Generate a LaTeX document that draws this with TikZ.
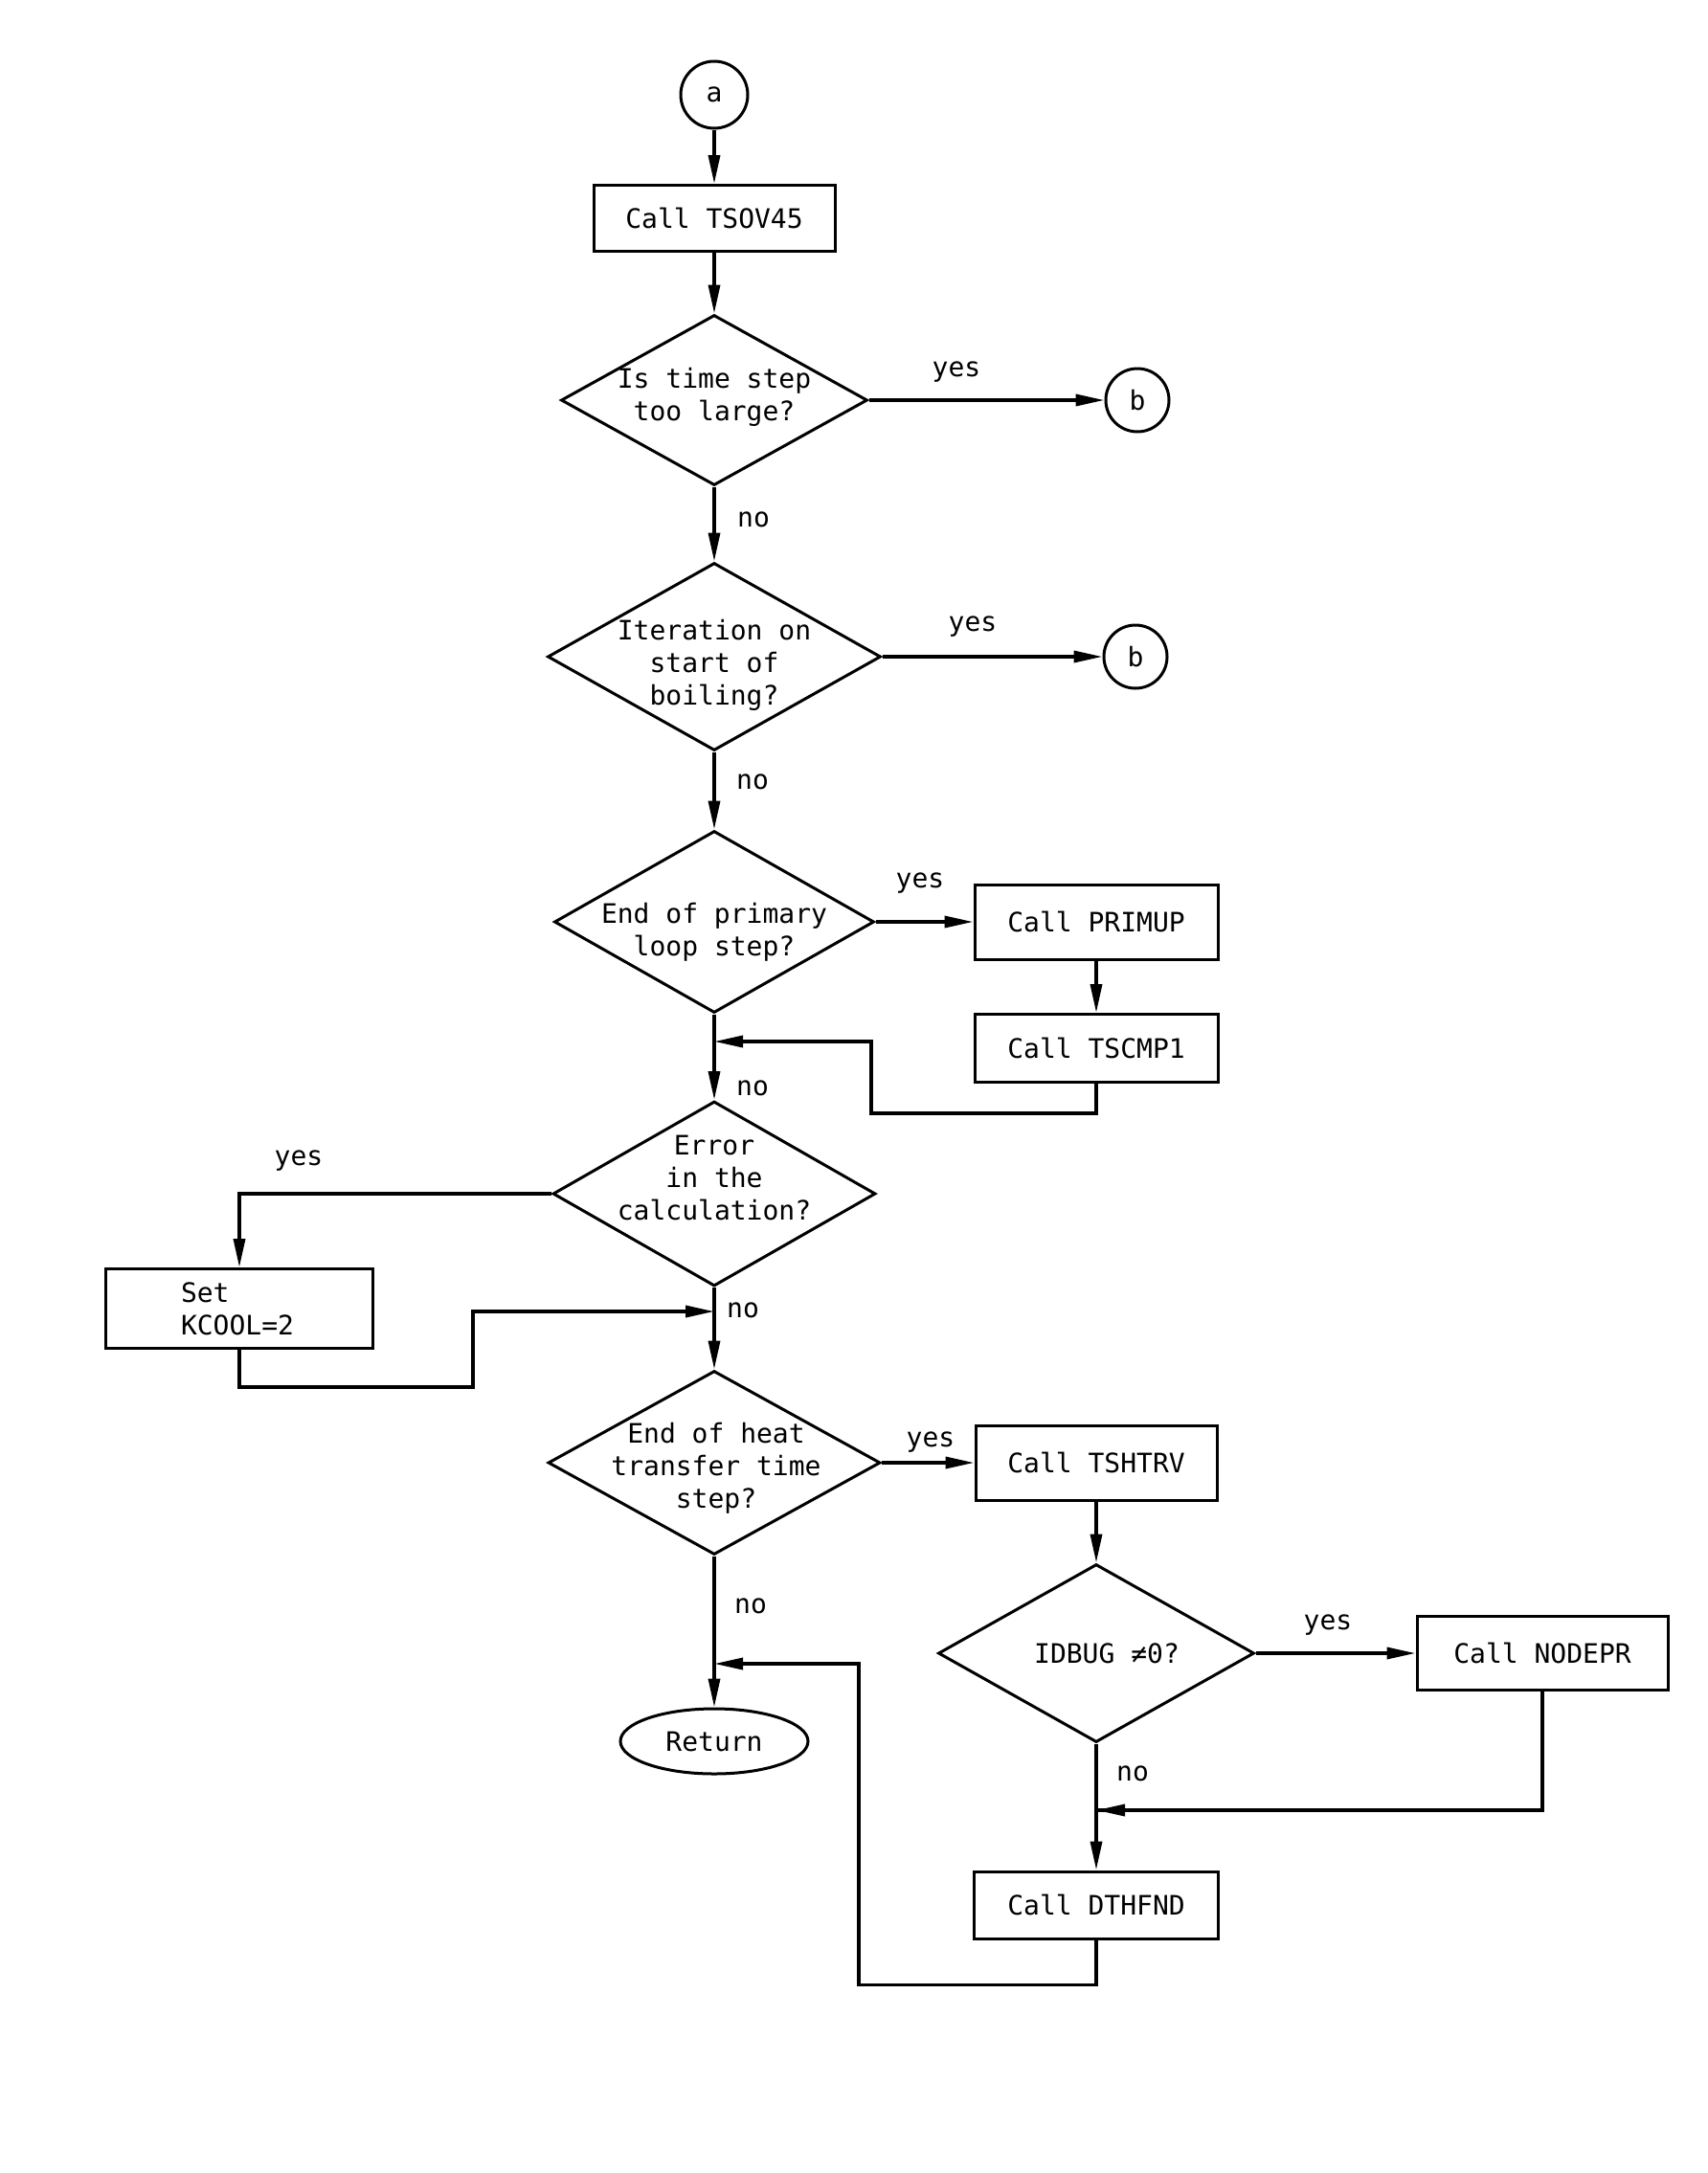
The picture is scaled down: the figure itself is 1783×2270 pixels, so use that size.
\documentclass[tikz,border=0pt]{standalone}
\usepackage{fontspec}
\setmonofont{DejaVu Sans Mono}
\usetikzlibrary{shapes.geometric,arrows.meta}
\begin{document}
\begin{tikzpicture}[x=1pt,y=-1pt,
  every node/.style={font=\ttfamily\fontsize{28}{34}\selectfont},
  line/.style={line width=3.5pt},
  arr/.style={line width=3.5pt,-{Triangle[length=30pt,width=12pt]}},
  box/.style={draw,line width=3pt,inner sep=0pt},
  dec/.style={draw,diamond,line width=3pt,inner sep=0pt},
  conn/.style={draw,circle,line width=3pt,inner sep=0pt},
  txt/.style={align=center,inner sep=0pt},
  lbl/.style={inner sep=0pt}]
\fill[white] (0,0) rectangle (1783,2270);
\useasboundingbox (0,0) rectangle (1783,2270);

% main column
\node[conn,minimum size=70pt] (a) at (746,99) {a};
\node[box,minimum width=252pt,minimum height=69pt] (tsov) at (746,228) {Call TSOV45};
\node[dec,minimum width=320pt,minimum height=178pt] (d1) at (746,418) {};
\node[txt] (d1t) at (746,415) {Is time step\\too large?};
\node[conn,minimum size=66pt] (b1) at (1188,418) {b};

\node[dec,minimum width=348pt,minimum height=196pt] (d2) at (746,686) {};
\node[txt] (d2t) at (746,695) {Iteration on\\start of\\boiling?};
\node[conn,minimum size=66pt] (b2) at (1186,686) {b};

\node[dec,minimum width=334pt,minimum height=190pt] (d3) at (746,963) {};
\node[txt] (d3t) at (746,974) {End of primary\\loop step?};
\node[box,minimum width=254pt,minimum height=78pt] (primup) at (1145,963) {Call PRIMUP};
\node[box,minimum width=254pt,minimum height=71pt] (tscmp) at (1145,1095) {Call TSCMP1};

\node[dec,minimum width=337pt,minimum height=193pt] (d4) at (746,1247) {};
\node[txt] (d4t) at (746,1230) {Error\\in the\\calculation?};
\node[box,minimum width=279pt,minimum height=83pt] (kcool) at (250,1367) {};
\node[align=left,inner sep=0pt] (kcoolt) at (248,1367) {Set\\KCOOL=2};

\node[dec,minimum width=347pt,minimum height=192pt] (d5) at (746,1528) {};
\node[txt] (d5t) at (748,1534) {End of heat\\transfer time\\step?};
\node[box,minimum width=252pt,minimum height=78pt] (tshtrv) at (1145,1528) {Call TSHTRV};
\node[dec,minimum width=330pt,minimum height=186pt] (d6) at (1145,1727) {};
\node[txt] (d6t) at (1156,1727) {IDBUG ≠0?};
\node[box,minimum width=262pt,minimum height=77pt] (nodepr) at (1611,1727) {Call NODEPR};
\node[box,minimum width=255pt,minimum height=70pt] (dthfnd) at (1145,1990) {Call DTHFND};
\node[draw,ellipse,line width=3pt,minimum width=196pt,minimum height=68pt,inner sep=0pt] (ret) at (746,1819) {Return};

% junctions
\coordinate (j1) at (746,1088);
\coordinate (j2) at (746,1370);
\coordinate (j3) at (746,1738);
\coordinate (j4) at (1145,1891);

% connectors
\draw[arr] (a) -- (tsov);
\draw[arr] (tsov) -- (d1.north);
\draw[arr] (d1.east) -- (b1);
\draw[arr] (d1.south) -- (d2.north);
\draw[arr] (d2.east) -- (b2);
\draw[arr] (d2.south) -- (d3.north);
\draw[arr] (d3.east) -- (primup.west);
\draw[arr] (primup) -- (tscmp);
\draw[arr] (tscmp.south) -- ++(0,31) -| (910,1088) -- (j1);
\draw[line] (d3.south) -- (j1);
\draw[arr] (j1) -- (d4.north);
\draw[arr] (d4.west) -| (kcool.north);
\draw[arr] (kcool.south) -- ++(0,39) -| (494,1370) -- (j2);
\draw[line] (d4.south) -- (j2);
\draw[arr] (j2) -- (d5.north);
\draw[arr] (d5.east) -- (tshtrv.west);
\draw[arr] (tshtrv) -- (d6.north);
\draw[arr] (d6.east) -- (nodepr.west);
\draw[line] (nodepr.south) |- (j4);
\draw[line] (d6.south) -- (j4);
\draw[arr] (1611,1891) -- (j4);
\draw[arr] (j4) -- (dthfnd.north);
\draw[arr] (dthfnd.south) -- ++(0,47) -| (897,1738) -- (j3);
\draw[line] (d5.south) -- (j3);
\draw[arr] (j3) -- (ret.north);

% labels
\node[lbl] (y1) at (999,389) {yes};
\node[lbl] (n1) at (787,543) {no};
\node[lbl] (y2) at (1016,655) {yes};
\node[lbl] (n2) at (786,817) {no};
\node[lbl] (y3) at (961,923) {yes};
\node[lbl] (n3) at (786,1137) {no};
\node[lbl] (y4) at (312,1213) {yes};
\node[lbl] (n4) at (776,1369) {no};
\node[lbl] (y5) at (972,1507) {yes};
\node[lbl] (n5) at (784,1678) {no};
\node[lbl] (y6) at (1387,1698) {yes};
\node[lbl] (n6) at (1183,1853) {no};
\end{tikzpicture}
\end{document}
